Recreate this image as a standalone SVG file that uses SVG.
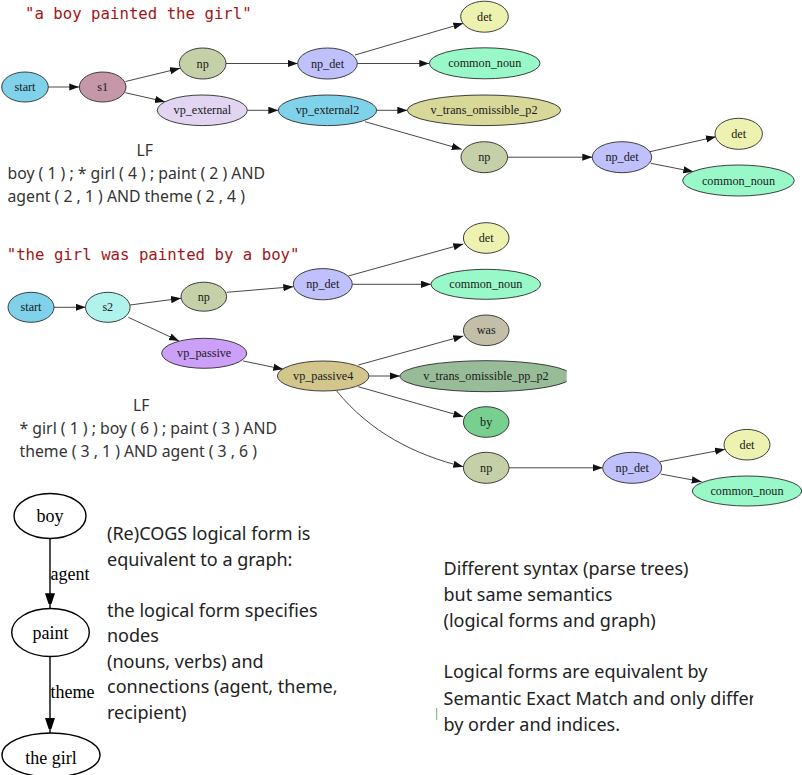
<svg xmlns="http://www.w3.org/2000/svg" width="802" height="775" viewBox="0 0 802 775">
<style>
.n ellipse{stroke:#2a2a2a;stroke-width:0.9}
.n text{font-family:"Liberation Serif","Times New Roman",serif;font-size:12.2px;fill:#1a1a1a;text-anchor:middle}
.e line,.e path{stroke:#333;stroke-width:0.9;fill:none;marker-end:url(#ah)}
.title{font-family:"DejaVu Sans Mono",monospace;font-size:15.7px;fill:#a31515}
.lf{font-family:"Noto Sans","Open Sans",sans-serif;font-size:15.8px;fill:#333}
.body{font-family:"Noto Sans","Open Sans",sans-serif;font-size:18px;fill:#222}
.g ellipse{fill:#fff;stroke:#000;stroke-width:1.4}
.g text{font-family:"Liberation Serif","Times New Roman",serif;font-size:18px;fill:#000}
.ge line{stroke:#000;stroke-width:1.4;marker-end:url(#ah2)}
</style>
<defs>
<marker id="ah" markerUnits="userSpaceOnUse" markerWidth="10" markerHeight="8" refX="10" refY="3.6" orient="auto">
<path d="M0,0 L10,3.6 L0,7.2 z" fill="#111"/>
</marker>
<marker id="ah2" markerUnits="userSpaceOnUse" markerWidth="11" markerHeight="16" refX="15" refY="5" orient="auto">
<path d="M0,0 L15,5 L0,10 z" fill="#000"/>
</marker>
<clipPath id="clipV"><rect x="0" y="340" width="566.7" height="60"/></clipPath>
<clipPath id="clipT"><rect x="400" y="530" width="353.3" height="220"/></clipPath>
</defs>
<rect width="802" height="775" fill="#fff"/>

<!-- titles and LF texts -->
<text class="title" x="25" y="19">"a boy painted the girl"</text>
<text class="lf" x="136.5" y="156">LF</text>
<text class="lf" x="7.5" y="179">boy ( 1 ) ; * girl ( 4 ) ; paint ( 2 ) AND</text>
<text class="lf" x="7.5" y="202">agent ( 2 , 1 ) AND theme ( 2 , 4 )</text>

<text class="title" x="6.7" y="259.5">"the girl was painted by a boy"</text>
<text class="lf" x="133" y="411">LF</text>
<text class="lf" x="19.5" y="434">* girl ( 1 ) ; boy ( 6 ) ; paint ( 3 ) AND</text>
<text class="lf" x="19.5" y="457">theme ( 3 , 1 ) AND agent ( 3 , 6 )</text>

<!-- connectors -->
<g class="e" id="edges">
<line x1="48.3" y1="87" x2="79.3" y2="87"/>
<line x1="125.5" y1="81.5" x2="180" y2="68.3"/>
<line x1="125.3" y1="92.7" x2="165" y2="101.7"/>
<line x1="226" y1="63.5" x2="297.7" y2="63.5"/>
<line x1="247.3" y1="110.3" x2="278.3" y2="110.3"/>
<line x1="355" y1="55" x2="463.3" y2="23.3"/>
<line x1="357.3" y1="63.5" x2="429.3" y2="63.5"/>
<line x1="376.7" y1="110.3" x2="407.3" y2="110.3"/>
<line x1="365" y1="121.7" x2="461.7" y2="149.3"/>
<line x1="507.7" y1="157.2" x2="592.3" y2="157.2"/>
<line x1="650" y1="151.7" x2="716" y2="136.7"/>
<line x1="650.7" y1="163.3" x2="693.3" y2="171.7"/>

<line x1="54" y1="307.3" x2="85.7" y2="307.3"/>
<line x1="130" y1="305" x2="181" y2="298.3"/>
<line x1="128.3" y1="317.3" x2="179" y2="341"/>
<line x1="226.7" y1="292.3" x2="293.3" y2="286.7"/>
<line x1="348.3" y1="276" x2="463.3" y2="244"/>
<line x1="352.3" y1="284.3" x2="431" y2="284.3"/>
<line x1="243.3" y1="361" x2="283.3" y2="369.3"/>
<line x1="358.3" y1="365" x2="463.3" y2="336"/>
<line x1="369" y1="376" x2="400" y2="376"/>
<line x1="358.3" y1="386.7" x2="463.3" y2="416.7"/>
<path d="M336.7,391 C370,432 415,455 463.3,466.7"/>
<line x1="509" y1="467.8" x2="602.7" y2="467.8"/>
<line x1="660" y1="461.7" x2="725" y2="449.3"/>
<line x1="660.7" y1="474" x2="701.7" y2="481.7"/>
</g>

<!-- top graph nodes -->
<g class="n" id="t_start"><ellipse cx="25" cy="87" rx="23.3" ry="15" fill="#7fd2ea"/><text x="25" y="91">start</text></g>
<g class="n" id="t_s1"><ellipse cx="102.7" cy="87" rx="23.3" ry="15" fill="#c597a8"/><text x="102.7" y="91">s1</text></g>
<g class="n" id="t_np"><ellipse cx="202.7" cy="63.5" rx="23.3" ry="15.5" fill="#c5d0a8"/><text x="202.7" y="67.5">np</text></g>
<g class="n" id="t_vp_external"><ellipse cx="202.3" cy="110.3" rx="45" ry="15.3" fill="#e1d5f2"/><text x="202.3" y="114.3">vp_external</text></g>
<g class="n" id="t_np_det"><ellipse cx="327.5" cy="63.5" rx="29.8" ry="15.5" fill="#c0c0fc"/><text x="327.5" y="67.5">np_det</text></g>
<g class="n" id="t_vp_external2"><ellipse cx="327.5" cy="110.3" rx="49.2" ry="15.3" fill="#7fd2ea"/><text x="327.5" y="114.3">vp_external2</text></g>
<g class="n" id="t_det"><ellipse cx="484.5" cy="16.7" rx="23.8" ry="15.5" fill="#eef2b0"/><text x="484.5" y="20.7">det</text></g>
<g class="n" id="t_common_noun"><ellipse cx="484.7" cy="63.3" rx="55.3" ry="15.5" fill="#98f8c8"/><text x="484.7" y="67.3">common_noun</text></g>
<g class="n" id="t_v_trans"><ellipse cx="484" cy="110.3" rx="76.7" ry="15.3" fill="#d8d898"/><text x="484" y="114.3">v_trans_omissible_p2</text></g>
<g class="n" id="t_np2"><ellipse cx="484.3" cy="157.2" rx="23.3" ry="15.5" fill="#c5d0a8"/><text x="484.3" y="161.2">np</text></g>
<g class="n" id="t_np_det2"><ellipse cx="622" cy="157.2" rx="29.7" ry="15.5" fill="#c0c0fc"/><text x="622" y="161.2">np_det</text></g>
<g class="n" id="t_det2"><ellipse cx="738.7" cy="133.8" rx="23.7" ry="15.5" fill="#eef2b0"/><text x="738.7" y="137.8">det</text></g>
<g class="n" id="t_common_noun2"><ellipse cx="738.5" cy="180.5" rx="55.8" ry="15.5" fill="#98f8c8"/><text x="738.5" y="184.5">common_noun</text></g>

<!-- second graph nodes -->
<g class="n" id="b_start"><ellipse cx="31" cy="307.3" rx="23" ry="15" fill="#7fd2ea"/><text x="31" y="311.3">start</text></g>
<g class="n" id="b_s2"><ellipse cx="107.8" cy="307.3" rx="22.3" ry="15" fill="#b0f2ec"/><text x="107.8" y="311.3">s2</text></g>
<g class="n" id="b_np"><ellipse cx="203.8" cy="296.7" rx="22.8" ry="14.5" fill="#c5d0a8"/><text x="203.8" y="300.7">np</text></g>
<g class="n" id="b_np_det"><ellipse cx="322.8" cy="284.2" rx="29.5" ry="15.6" fill="#c0c0fc"/><text x="322.8" y="288.2">np_det</text></g>
<g class="n" id="b_vp_passive"><ellipse cx="204.2" cy="353.3" rx="42.5" ry="15" fill="#cc9ff8"/><text x="204.2" y="357.3">vp_passive</text></g>
<g class="n" id="b_vp_passive4"><ellipse cx="323.2" cy="376" rx="45.8" ry="15" fill="#d2c68c"/><text x="323.2" y="380">vp_passive4</text></g>
<g class="n" id="b_det"><ellipse cx="486.2" cy="238" rx="22.8" ry="15.3" fill="#eef2b0"/><text x="486.2" y="242">det</text></g>
<g class="n" id="b_common_noun"><ellipse cx="485.8" cy="284.3" rx="54.8" ry="15" fill="#98f8c8"/><text x="485.8" y="288.3">common_noun</text></g>
<g class="n" id="b_was"><ellipse cx="486.2" cy="330.3" rx="22.8" ry="15.3" fill="#c2bea8"/><text x="486.2" y="334.3">was</text></g>
<g class="n" id="b_v_trans" clip-path="url(#clipV)"><ellipse cx="486" cy="376.2" rx="86" ry="15.5" fill="#98bc98"/><text x="486" y="380.2">v_trans_omissible_pp_p2</text></g>
<g class="n" id="b_by"><ellipse cx="486.2" cy="422" rx="22.8" ry="15.3" fill="#78d090"/><text x="486.2" y="426">by</text></g>
<g class="n" id="b_np2"><ellipse cx="486.2" cy="467.8" rx="22.8" ry="15.5" fill="#c5d0a8"/><text x="486.2" y="471.8">np</text></g>
<g class="n" id="b_np_det2"><ellipse cx="632.2" cy="467.8" rx="29.5" ry="15.5" fill="#c0c0fc"/><text x="632.2" y="471.8">np_det</text></g>
<g class="n" id="b_det2"><ellipse cx="747" cy="444.7" rx="23" ry="15.3" fill="#eef2b0"/><text x="747" y="448.7">det</text></g>
<g class="n" id="b_common_noun2"><ellipse cx="747" cy="491" rx="54.7" ry="15" fill="#98f8c8"/><text x="747" y="495">common_noun</text></g>

<!-- semantic graph -->
<g class="ge" id="sem_edges">
<line x1="50" y1="538.5" x2="50" y2="608.3"/>
<line x1="50" y1="656.7" x2="50" y2="733"/>
</g>
<g class="g" id="sem_labels">
<text x="50.5" y="579.5">agent</text>
<text x="50.5" y="698">theme</text>
</g>
<g class="g" id="g_boy"><ellipse cx="50" cy="516" rx="36" ry="22.5"/><text x="50" y="522" text-anchor="middle">boy</text></g>
<g class="g" id="g_paint"><ellipse cx="50.5" cy="632.5" rx="38.8" ry="24"/><text x="50.5" y="638.5" text-anchor="middle">paint</text></g>
<g class="g" id="g_girl"><ellipse cx="51" cy="755" rx="49" ry="22"/><text x="51" y="764" text-anchor="middle">the girl</text></g>

<!-- explanatory text -->
<text class="body">
<tspan x="107" y="540">(Re)COGS logical form is</tspan>
<tspan x="107" y="565.5">equivalent to a graph:</tspan>
<tspan x="107" y="616.7">the logical form specifies</tspan>
<tspan x="107" y="642">nodes</tspan>
<tspan x="107" y="667.6">(nouns, verbs) and</tspan>
<tspan x="107" y="693">connections (agent, theme,</tspan>
<tspan x="107" y="718.6">recipient)</tspan>
</text>
<g clip-path="url(#clipT)">
<text class="body">
<tspan x="443.5" y="575">Different syntax (parse trees)</tspan>
<tspan x="443.5" y="601">but same semantics</tspan>
<tspan x="443.5" y="626.7">(logical forms and graph)</tspan>
<tspan x="443.5" y="678.3">Logical forms are equivalent by</tspan>
<tspan x="443.5" y="704.5">Semantic Exact Match and only differ</tspan>
<tspan x="443.5" y="730.5">by order and indices.</tspan>
</text>
</g>
<line x1="436.7" y1="708" x2="436.7" y2="720" stroke="#5a9a5a" stroke-width="0.8"/>
</svg>
